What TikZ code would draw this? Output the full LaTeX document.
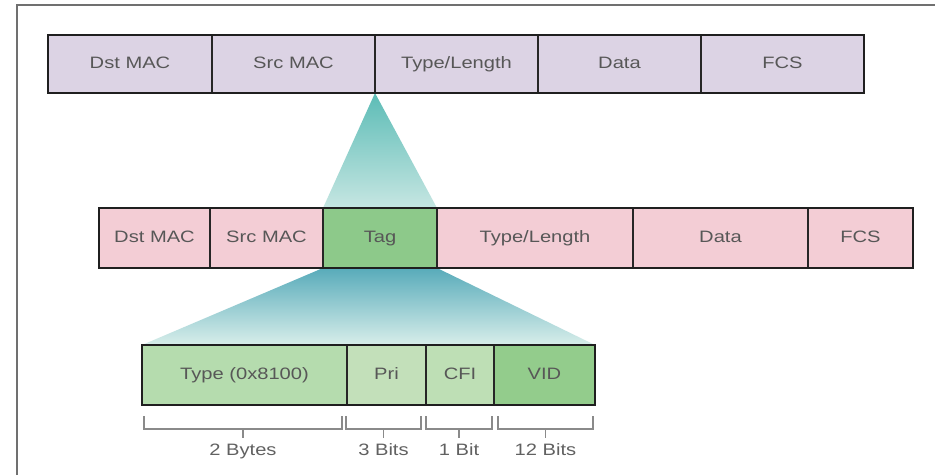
\documentclass[tikz,border=0pt]{standalone}
\usepackage{fontspec}
\setmainfont[FakeStretch=1.22]{Liberation Sans}
\usetikzlibrary{calc}

\definecolor{lav}{HTML}{DCD3E4}
\definecolor{rosa}{HTML}{F3CDD5}
\definecolor{tagg}{HTML}{8DC98A}
\definecolor{lgA}{HTML}{B5DCAE}
\definecolor{lgB}{HTML}{C3E0BA}
\definecolor{lgC}{HTML}{BEDFB5}
\definecolor{vidg}{HTML}{93CC8C}
\definecolor{tealD}{HTML}{5CBCB6}
\definecolor{tealL}{HTML}{C6E6E2}
\definecolor{tealB}{HTML}{58ABBA}
\definecolor{tealP}{HTML}{D8EEEA}
\definecolor{txt}{HTML}{575757}
\definecolor{framec}{HTML}{707070}
\definecolor{dimc}{HTML}{8A8A8A}

\begin{document}
\begin{tikzpicture}[x=1pt,y=-1pt,
  cell/.style={draw=black!85, line width=1.4pt, anchor=north west,
    inner sep=0pt, outer sep=0pt, text=txt,
    text height=12pt, text depth=3pt,
    font=\fontsize{16.5}{18}\selectfont},
  toprow/.style={cell, fill=lav, minimum height=58pt},
  midrow/.style={cell, fill=rosa, minimum height=60pt},
  lowrow/.style={cell, minimum height=60pt},
  rowframe/.style={draw=black!88, line width=2.6pt},
  dimline/.style={draw=dimc, line width=1.2pt},
  dimtext/.style={text=dimc!70!black, text height=12pt, text depth=3pt,
    font=\fontsize{16.5}{18}\selectfont}]

\useasboundingbox (0,0) rectangle (935,475);
\fill[white] (0,0) rectangle (935,475);

% page frame
\draw[framec, line width=1.5pt] (17,475) -- (17,5) -- (935,5);

% coordinates of the three rows
\coordinate (topL) at (48,35);
\coordinate (midL) at (99,208);
\coordinate (lowL) at (142,345);

% ---- funnels (drawn first, cells go on top)
\path (topL) ++(327,58) coordinate (apex);
\path (midL) ++(224,0) coordinate (tagNW);
\path (midL) ++(338,0) coordinate (tagNE);
\path (midL) ++(224,60) coordinate (tagSW);
\path (midL) ++(338,60) coordinate (tagSE);
\path (lowL) coordinate (lowNW);
\path (lowL) ++(453,0) coordinate (lowNE);

\shade[top color=tealD, bottom color=tealL] (apex) -- (tagNE) -- (tagNW) -- cycle;
\shade[top color=tealB, bottom color=tealP] (tagSW) -- (tagSE) -- (lowNE) -- (lowNW) -- cycle;

% ---- upper frame
\node[toprow, minimum width=164pt] (a1) at (topL) {Dst MAC};
\node[toprow, minimum width=163pt] (a2) at (a1.north east) {Src MAC};
\node[toprow, minimum width=163pt] (a3) at (a2.north east) {Type/Length};
\node[toprow, minimum width=163pt] (a4) at (a3.north east) {Data};
\node[toprow, minimum width=163pt] (a5) at (a4.north east) {FCS};
\draw[rowframe] (a1.north west) rectangle (a5.south east);

% ---- tagged frame
\node[midrow, minimum width=111pt] (b1) at (midL) {Dst MAC};
\node[midrow, minimum width=113pt] (b2) at (b1.north east) {Src MAC};
\node[midrow, minimum width=114pt, fill=tagg] (b3) at (b2.north east) {Tag};
\node[midrow, minimum width=196pt] (b4) at (b3.north east) {Type/Length};
\node[midrow, minimum width=175pt] (b5) at (b4.north east) {Data};
\node[midrow, minimum width=105pt] (b6) at (b5.north east) {FCS};
\draw[rowframe] (b1.north west) rectangle (b6.south east);

% ---- tag fields
\node[lowrow, fill=lgA, minimum width=205pt] (c1) at (lowL) {Type (0x8100)};
\node[lowrow, fill=lgB, minimum width=79pt] (c2) at (c1.north east) {Pri};
\node[lowrow, fill=lgC, minimum width=68pt] (c3) at (c2.north east) {CFI};
\node[lowrow, fill=vidg, minimum width=101pt] (c4) at (c3.north east) {VID};
\draw[rowframe] (c1.north west) rectangle (c4.south east);

% ---- size brackets
\foreach \a/\b/\lab in {144/342/2 Bytes, 346/421/3 Bits, 426/492/1 Bit, 498/593/12 Bits}{
  \draw[dimline] (\a,416) -- (\a,429) -- (\b,429) -- (\b,416);
  \draw[dimline] ({(\a+\b)/2},429) -- ({(\a+\b)/2},438);
  \node[dimtext] at ({(\a+\b)/2},451) {\lab};
}
\end{tikzpicture}
\end{document}
